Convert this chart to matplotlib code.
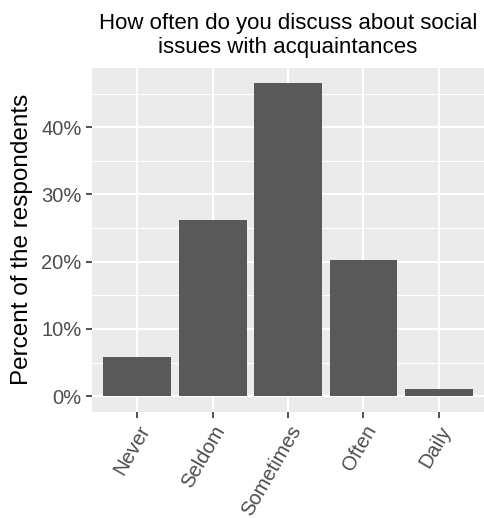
#!/usr/bin/env python
# -*- coding: utf-8 -*-

import numpy as np
import matplotlib.pyplot as plt
from matplotlib.ticker import FixedLocator

categories = ['Never', 'Seldom', 'Sometimes', 'Often', 'Daily']
percents = [5.9, 26.2, 46.5, 20.2, 1.0]
yticks = [0, 10, 20, 30, 40]
ytick_labels = ['0%', '10%', '20%', '30%', '40%']


def main():
    plt.rcParams['font.family'] = ['Liberation Sans', 'DejaVu Sans']

    fig = plt.figure(figsize=(4.85, 5.18), dpi=100)
    ax = fig.add_axes([0.19, 0.205, 0.808, 0.664])

    x = np.arange(1, len(categories) + 1)
    ax.set_facecolor('#EBEBEB')
    ax.bar(x, percents, width=0.9, color='#595959', zorder=3)

    ymax = max(percents)
    ax.set_ylim(-0.05 * ymax, 1.05 * ymax)
    ax.set_xlim(0.4, len(categories) + 0.6)

    ax.set_yticks(yticks)
    ax.set_yticklabels(ytick_labels)
    ax.yaxis.set_minor_locator(FixedLocator([5, 15, 25, 35, 45]))
    ax.set_xticks(x)
    ax.set_xticklabels(categories, rotation=60, ha='right', va='top',
                       rotation_mode='anchor')

    ax.grid(which='major', color='white', linewidth=1.5, zorder=1)
    ax.grid(which='minor', axis='y', color='white', linewidth=0.75, zorder=1)
    ax.set_axisbelow(True)

    for s in ax.spines.values():
        s.set_visible(False)

    ax.tick_params(axis='both', which='major', length=4.5, width=1.2,
                   color='#333333', labelsize=14.5, labelcolor='#4D4D4D', pad=3)
    ax.tick_params(axis='y', which='minor', length=0)

    ax.set_ylabel('Percent of the respondents', fontsize=17.5, color='black',
                  labelpad=6)
    ax.set_title('How often do you discuss about social\nissues with acquaintances',
                 fontsize=16, color='black', pad=11, linespacing=1.15)

    fig.savefig('out.png', dpi=100)


if __name__ == '__main__':
    main()
